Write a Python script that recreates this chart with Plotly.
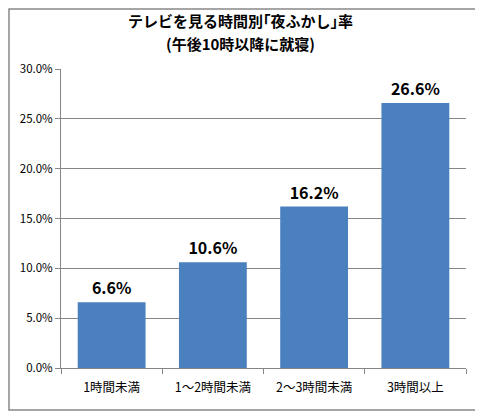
import plotly.graph_objects as go

categories = ["1時間未満", "1～2時間未満", "2～3時間未満", "3時間以上"]
rates = [6.6, 10.6, 16.2, 26.6]
title_lines = ["テレビを見る時間別｢夜ふかし｣率", "(午後10時以降に就寝)"]

# the page body adds an 8px margin, so the figure is 8px smaller
W, H = 475, 405
L, R, T, B = 53, 17, 61, 45
pw, ph = W - L - R, H - T - B

fig = go.Figure(go.Bar(
    x=categories, y=[v / 100 for v in rates],
    marker=dict(color="#4a80bd", line=dict(width=0)),
    text=[f"{v:.1f}%" for v in rates], textposition="outside",
    textfont=dict(size=16, color="black", family="Noto Sans CJK JP"),
    texttemplate="<b>%{text}</b>", cliponaxis=False,
))

title_y = [12, 35]
for line, yy in zip(title_lines, title_y):
    fig.add_annotation(text="<b>" + line + "</b>", xref="paper", yref="paper",
                       x=(232 - L) / pw, y=(H - B - yy) / ph,
                       xanchor="center", yanchor="middle", showarrow=False,
                       font=dict(size=15, color="black"))

fig.update_layout(
    width=W, height=H,
    margin=dict(l=L, r=R, t=T, b=B),
    paper_bgcolor="white", plot_bgcolor="white",
    font=dict(family="Noto Sans CJK JP", size=11, color="black"),
    bargap=0.33, showlegend=False,
    shapes=[dict(type="rect", xref="paper", yref="paper",
                 x0=(1 - L) / pw, x1=(472 - L) / pw,
                 y0=(H - B - 402) / ph, y1=(H - B - 1) / ph,
                 line=dict(color="#888888", width=1.5))],
)
fig.update_xaxes(showline=True, linecolor="#868686", linewidth=1,
                 ticks="outside", tickson="boundaries", ticklen=5,
                 tickcolor="#868686", tickfont=dict(size=12.5),
                 ticklabelstandoff=8)
fig.update_yaxes(range=[0, 0.3], dtick=0.05, tickformat=".1%",
                 showline=True, linecolor="#868686", linewidth=1,
                 ticks="outside", ticklen=5, tickcolor="#868686",
                 showgrid=True, gridcolor="#868686", gridwidth=1,
                 zeroline=False, tickfont=dict(size=11.5))

fig.write_html("out.html")
